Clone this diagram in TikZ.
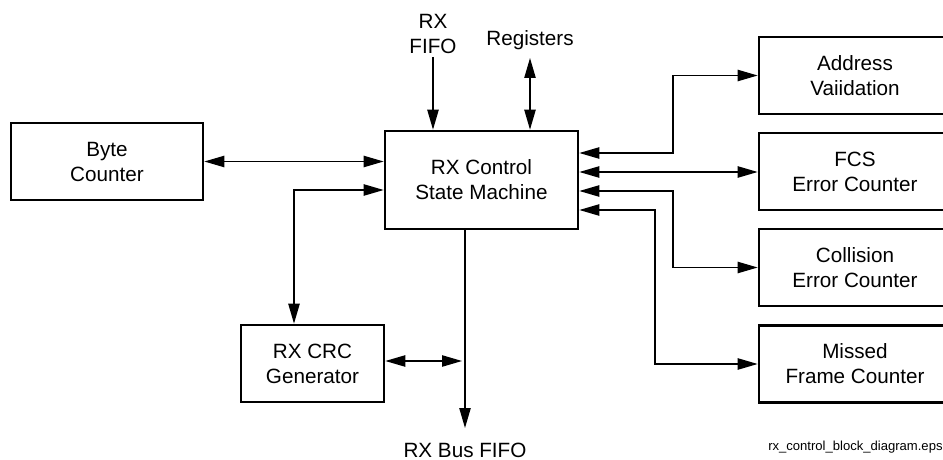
\documentclass[tikz,border=0pt]{standalone}
\usepackage{fontspec}
\setmainfont{Liberation Sans}
\usetikzlibrary{arrows.meta}
\begin{document}
\begin{tikzpicture}[x=0.75pt,y=-0.75pt,
  blk/.style={draw,line width=2pt,align=center,inner sep=0pt,
    font=\fontsize{15.5}{18.75}\selectfont},
  rblk/.style={draw,line width=2pt,inner sep=0pt,minimum width=156pt,minimum height=57.75pt},
  lbl/.style={align=center,inner sep=0pt,font=\fontsize{15.5}{18.75}\selectfont},
  con/.style={line width=1pt,-{Triangle[length=15pt,width=8.5pt]}},
  bicon/.style={line width=1pt,{Triangle[length=15pt,width=8.5pt]}-{Triangle[length=15pt,width=8.5pt]}}]
\useasboundingbox (0,0) rectangle (943,460);
% blocks
\node[blk,minimum width=144pt,minimum height=57.75pt] (byte) at (107,161.5) {Byte\\Counter};
\node[blk,minimum width=144.75pt,minimum height=73.5pt] (sm) at (481.5,180) {RX Control\\State Machine};
\node[blk,minimum width=107.25pt,minimum height=57.75pt] (crc) at (312.5,363.5) {RX CRC\\Generator};
% right blocks (run past the right edge of the picture)
\node[rblk] (addr) at (863,75.5) {};
\node[rblk] (fcs) at (863,171.5) {};
\node[rblk] (coll) at (863,267.5) {};
\node[rblk] (miss) at (863,364) {};
\node[lbl] (addrt) at (855,75.5) {Address\\Vaiidation};
\node[lbl] (fcst) at (855,171.5) {FCS\\Error Counter};
\node[lbl] (collt) at (855,267.5) {Collision\\Error Counter};
\node[lbl] (misst) at (855,364) {Missed\\Frame Counter};
% labels
\node[lbl] (rxfifo) at (433,34) {RX\\FIFO};
\node[lbl] (regs) at (530,40) {Registers};
\node[lbl] (busfifo) at (465,450) {RX Bus FIFO};
\node[inner sep=0pt,font=\fontsize{9.8}{11}\selectfont,anchor=base west] (cap) at (768,450) {rx\_control\_block\_diagram.eps};
% coordinates
\coordinate (fifotop) at (433,57);
\coordinate (regtop) at (530,58);
\coordinate (crcx) at (294,190);
\coordinate (busend) at (465,428);
\coordinate (crcj) at (462,361);
% connectors
\draw[con] (fifotop) -- (fifotop |- sm.north);
\draw[bicon] (regtop) -- (regtop |- sm.north);
\draw[bicon] (byte.east) -- (sm.west |- byte.east);
\draw[bicon] (crc.north -| crcx) -- (crcx) -- (sm.west |- crcx);
\draw[con] (sm.south -| busend) -- (busend);
\draw[bicon] (crc.east |- crcj) -- (crcj);
\draw[bicon] (sm.east |- 0,153) -- (673,153) -- (673,75.5) -- (addr.west);
\draw[bicon] (sm.east |- 0,172) -- (fcs.west |- 0,172);
\draw[bicon] (sm.east |- 0,191) -- (673,191) -- (673,267.5) -- (coll.west);
\draw[bicon] (sm.east |- 0,210) -- (655,210) -- (655,364) -- (miss.west);
\end{tikzpicture}
\end{document}
